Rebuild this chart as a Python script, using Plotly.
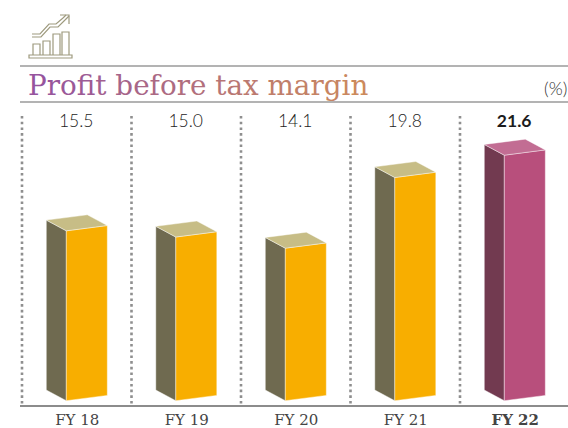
import re
import plotly.graph_objects as go

categories = ["FY 18", "FY 19", "FY 20", "FY 21", "FY 22"]
values = [15.5, 15.0, 14.1, 19.8, 21.6]
value_labels = ["15.5", "15.0", "14.1", "19.8", "21.6"]
title_text = "Profit before tax margin"
unit_text = "(%)"

W, H = 568, 428
L, R, T, B = 20, 0, 110, 23
PX_PER_CAT = 109.5
PX_PER_VAL = 12.4
BASE_VAL = 1.8
FIRST_FRONT_PX = 66.3
BASE_PX = 400.7

x0 = (L - FIRST_FRONT_PX) / PX_PER_CAT
x1 = (W - FIRST_FRONT_PX) / PX_PER_CAT
y0 = BASE_VAL - (H - B - BASE_PX) / PX_PER_VAL
y1 = BASE_VAL + (BASE_PX - T) / PX_PER_VAL

fw, frise = 41 / PX_PER_CAT, 5.3 / PX_PER_VAL
dx, drise = 20 / PX_PER_CAT, 10.7 / PX_PER_VAL

GOLD = dict(front="#f8ae00", side="#6f6a50", top="#c7bd86")
PINK = dict(front="#b84f7c", side="#723a50", top="#c26d93")

fig = go.Figure()


def poly(xs, ys, color):
    fig.add_trace(go.Scatter(
        x=xs + xs[:1], y=ys + ys[:1], mode="lines", fill="toself", fillcolor=color,
        line=dict(color="rgba(255,255,255,0.7)", width=0.6), hoverinfo="skip", showlegend=False))


for i, v in enumerate(values):
    c = PINK if i == len(values) - 1 else GOLD
    poly([i - dx, i, i, i - dx], [BASE_VAL + drise, BASE_VAL, v, v + drise], c["side"])
    poly([i, i + fw, i + fw, i], [BASE_VAL, BASE_VAL + frise, v + frise, v], c["front"])
    poly([i, i + fw, i + fw - dx, i - dx], [v, v + frise, v + frise + drise, v + drise], c["top"])

label_row = y1 - 12.5 / PX_PER_VAL
for i, t in enumerate(value_labels):
    last = i == len(value_labels) - 1
    fig.add_trace(go.Scatter(
        x=[i + 0.09], y=[label_row], mode="text", text=[t],
        textposition="middle center",
        textfont=dict(family="Lato", size=17.5, color="#1c1c1c", weight=700 if last else 300),
        hoverinfo="skip", showlegend=False))


def px(x):
    return (x - L) / (W - L - R)


def py(y):
    return 1 - (y - T) / (H - T - B)


shapes = []
for y in (66, 102):
    shapes.append(dict(type="line", xref="paper", yref="paper", x0=px(20), x1=1, y0=py(y), y1=py(y),
                       line=dict(color="#9a9a9a", width=1.3)))
for i in range(len(categories)):
    xs = i - (FIRST_FRONT_PX - 22) / PX_PER_CAT
    shapes.append(dict(type="line", xref="x", yref="paper", x0=xs, x1=xs, y0=py(116), y1=py(404),
                       line=dict(color="#8f8f8f", width=2.6, dash="2.6px,3.1px")))

ICON = "#9e9a7e"
icon_paths = [
    "M29 58 H72 V55 H29 Z",
    "M33 55 V44 H40 V55",
    "M43 55 V41 H50 V55",
    "M53 55 V34 H60 V55",
    "M62 55 V32 H69 V55",
    "M32 37 H41 L50 27 H58 L65 20",
    "M32 34 H40 L49 24 H56 L63 18",
    "M60 15 H69 V24",
    "M63 18 L66 15 M65 20 L69 16",
]


def conv(path):
    toks = re.findall(r"[MLHVZ]|-?\d+\.?\d*", path)
    out, i, cx, cy = [], 0, 0.0, 0.0
    while i < len(toks):
        c = toks[i]
        if c == "Z":
            out.append("Z"); i += 1
        elif c in "ML":
            cx, cy = float(toks[i + 1]), float(toks[i + 2]); i += 3
            out.append(f"{c} {px(cx):.5f} {py(cy):.5f}")
        elif c == "H":
            cx = float(toks[i + 1]); i += 2
            out.append(f"L {px(cx):.5f} {py(cy):.5f}")
        elif c == "V":
            cy = float(toks[i + 1]); i += 2
            out.append(f"L {px(cx):.5f} {py(cy):.5f}")
    return " ".join(out)


for d in icon_paths:
    shapes.append(dict(type="path", path=conv(d), xref="paper", yref="paper", line=dict(color=ICON, width=1.2)))


def lerp_color(a, b, t):
    return "#" + "".join(f"{round(a[k] + (b[k] - a[k]) * t):02x}" for k in range(3))


start, end = (150, 84, 158), (204, 138, 92)
n = len(title_text)
parts = []
for k, ch in enumerate(title_text):
    if ch == " ":
        continue
    tail = " " if k + 1 < n and title_text[k + 1] == " " else ""
    parts.append(f'<span style="color:{lerp_color(start, end, k / (n - 1))}">{ch}{tail}</span>')
title_html = "".join(parts)

annotations = [
    dict(text=title_html, xref="paper", yref="paper", x=px(26), y=py(86), xanchor="left", yanchor="middle",
         showarrow=False, font=dict(family="DejaVu Serif", size=27.8, color="#9a5a9e")),
    dict(text=unit_text, xref="paper", yref="paper", x=px(569), y=py(88), xanchor="right", yanchor="middle",
         showarrow=False, font=dict(family="Lato", size=18, color="#333333", weight=300)),
]

ticktext = [f"<b>{c}</b>" if i == len(categories) - 1 else c for i, c in enumerate(categories)]
fig.update_layout(
    width=W, height=H, autosize=False, margin=dict(l=L, r=R, t=T, b=B, autoexpand=False),
    paper_bgcolor="white", plot_bgcolor="white", showlegend=False,
    xaxis=dict(range=[x0, x1], showgrid=False, zeroline=False, showline=True, linecolor="#8c8c8c", linewidth=1.5,
               automargin=False,
               tickmode="array", tickvals=[i + 0.1 for i in range(len(categories))], ticktext=ticktext,
               ticks="", tickfont=dict(family="DejaVu Serif", size=15, color="#444444")),
    yaxis=dict(range=[y0, y1], visible=False),
    shapes=shapes, annotations=annotations,
)
fig.write_html("out.html", config={"displayModeBar": False},
               post_script="document.body.style.margin='0';document.documentElement.style.overflow='hidden';")
